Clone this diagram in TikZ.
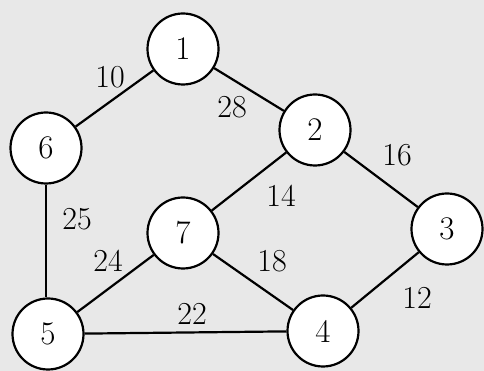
\documentclass[tikz,border=0pt]{standalone}
\usepackage{tikz}
\begin{document}
\begin{tikzpicture}[x=1pt,y=1pt,
  vert/.style={circle,draw,line width=2.2pt,fill=white,minimum size=71pt,inner sep=0pt,font=\fontsize{33}{35}\selectfont},
  wt/.style={inner sep=0pt,font=\fontsize{32}{34}\selectfont},
  edge/.style={line width=2.2pt}]
\fill[black!9] (0,0) rectangle (484,371);
\useasboundingbox (0,0) rectangle (484,371);
\node[vert] (n1) at (183,322) {1};
\node[vert] (n2) at (315,241) {2};
\node[vert] (n3) at (447,142) {3};
\node[vert] (n4) at (323,40) {4};
\node[vert] (n5) at (48,37) {5};
\node[vert] (n6) at (46,223) {6};
\node[vert] (n7) at (183,138) {7};
\draw[edge] (n1) -- (n6);
\draw[edge] (n1) -- (n2);
\draw[edge] (n2) -- (n3);
\draw[edge] (n2) -- (n7);
\draw[edge] (n6.south) -- (n6.south |- n5.north);
\draw[edge] (n7) -- (n5);
\draw[edge] (n7) -- (n4);
\draw[edge] (n5) -- (n4);
\draw[edge] (n4) -- (n3);
\node[wt] (w10) at (110,294) {10};
\node[wt] (w28) at (232,264) {28};
\node[wt] (w16) at (397,216) {16};
\node[wt] (w14) at (281,175) {14};
\node[wt] (w25) at (77,152) {25};
\node[wt] (w24) at (108,110) {24};
\node[wt] (w18) at (272,110) {18};
\node[wt] (w22) at (192,57) {22};
\node[wt] (w12) at (417,73) {12};
\end{tikzpicture}
\end{document}
